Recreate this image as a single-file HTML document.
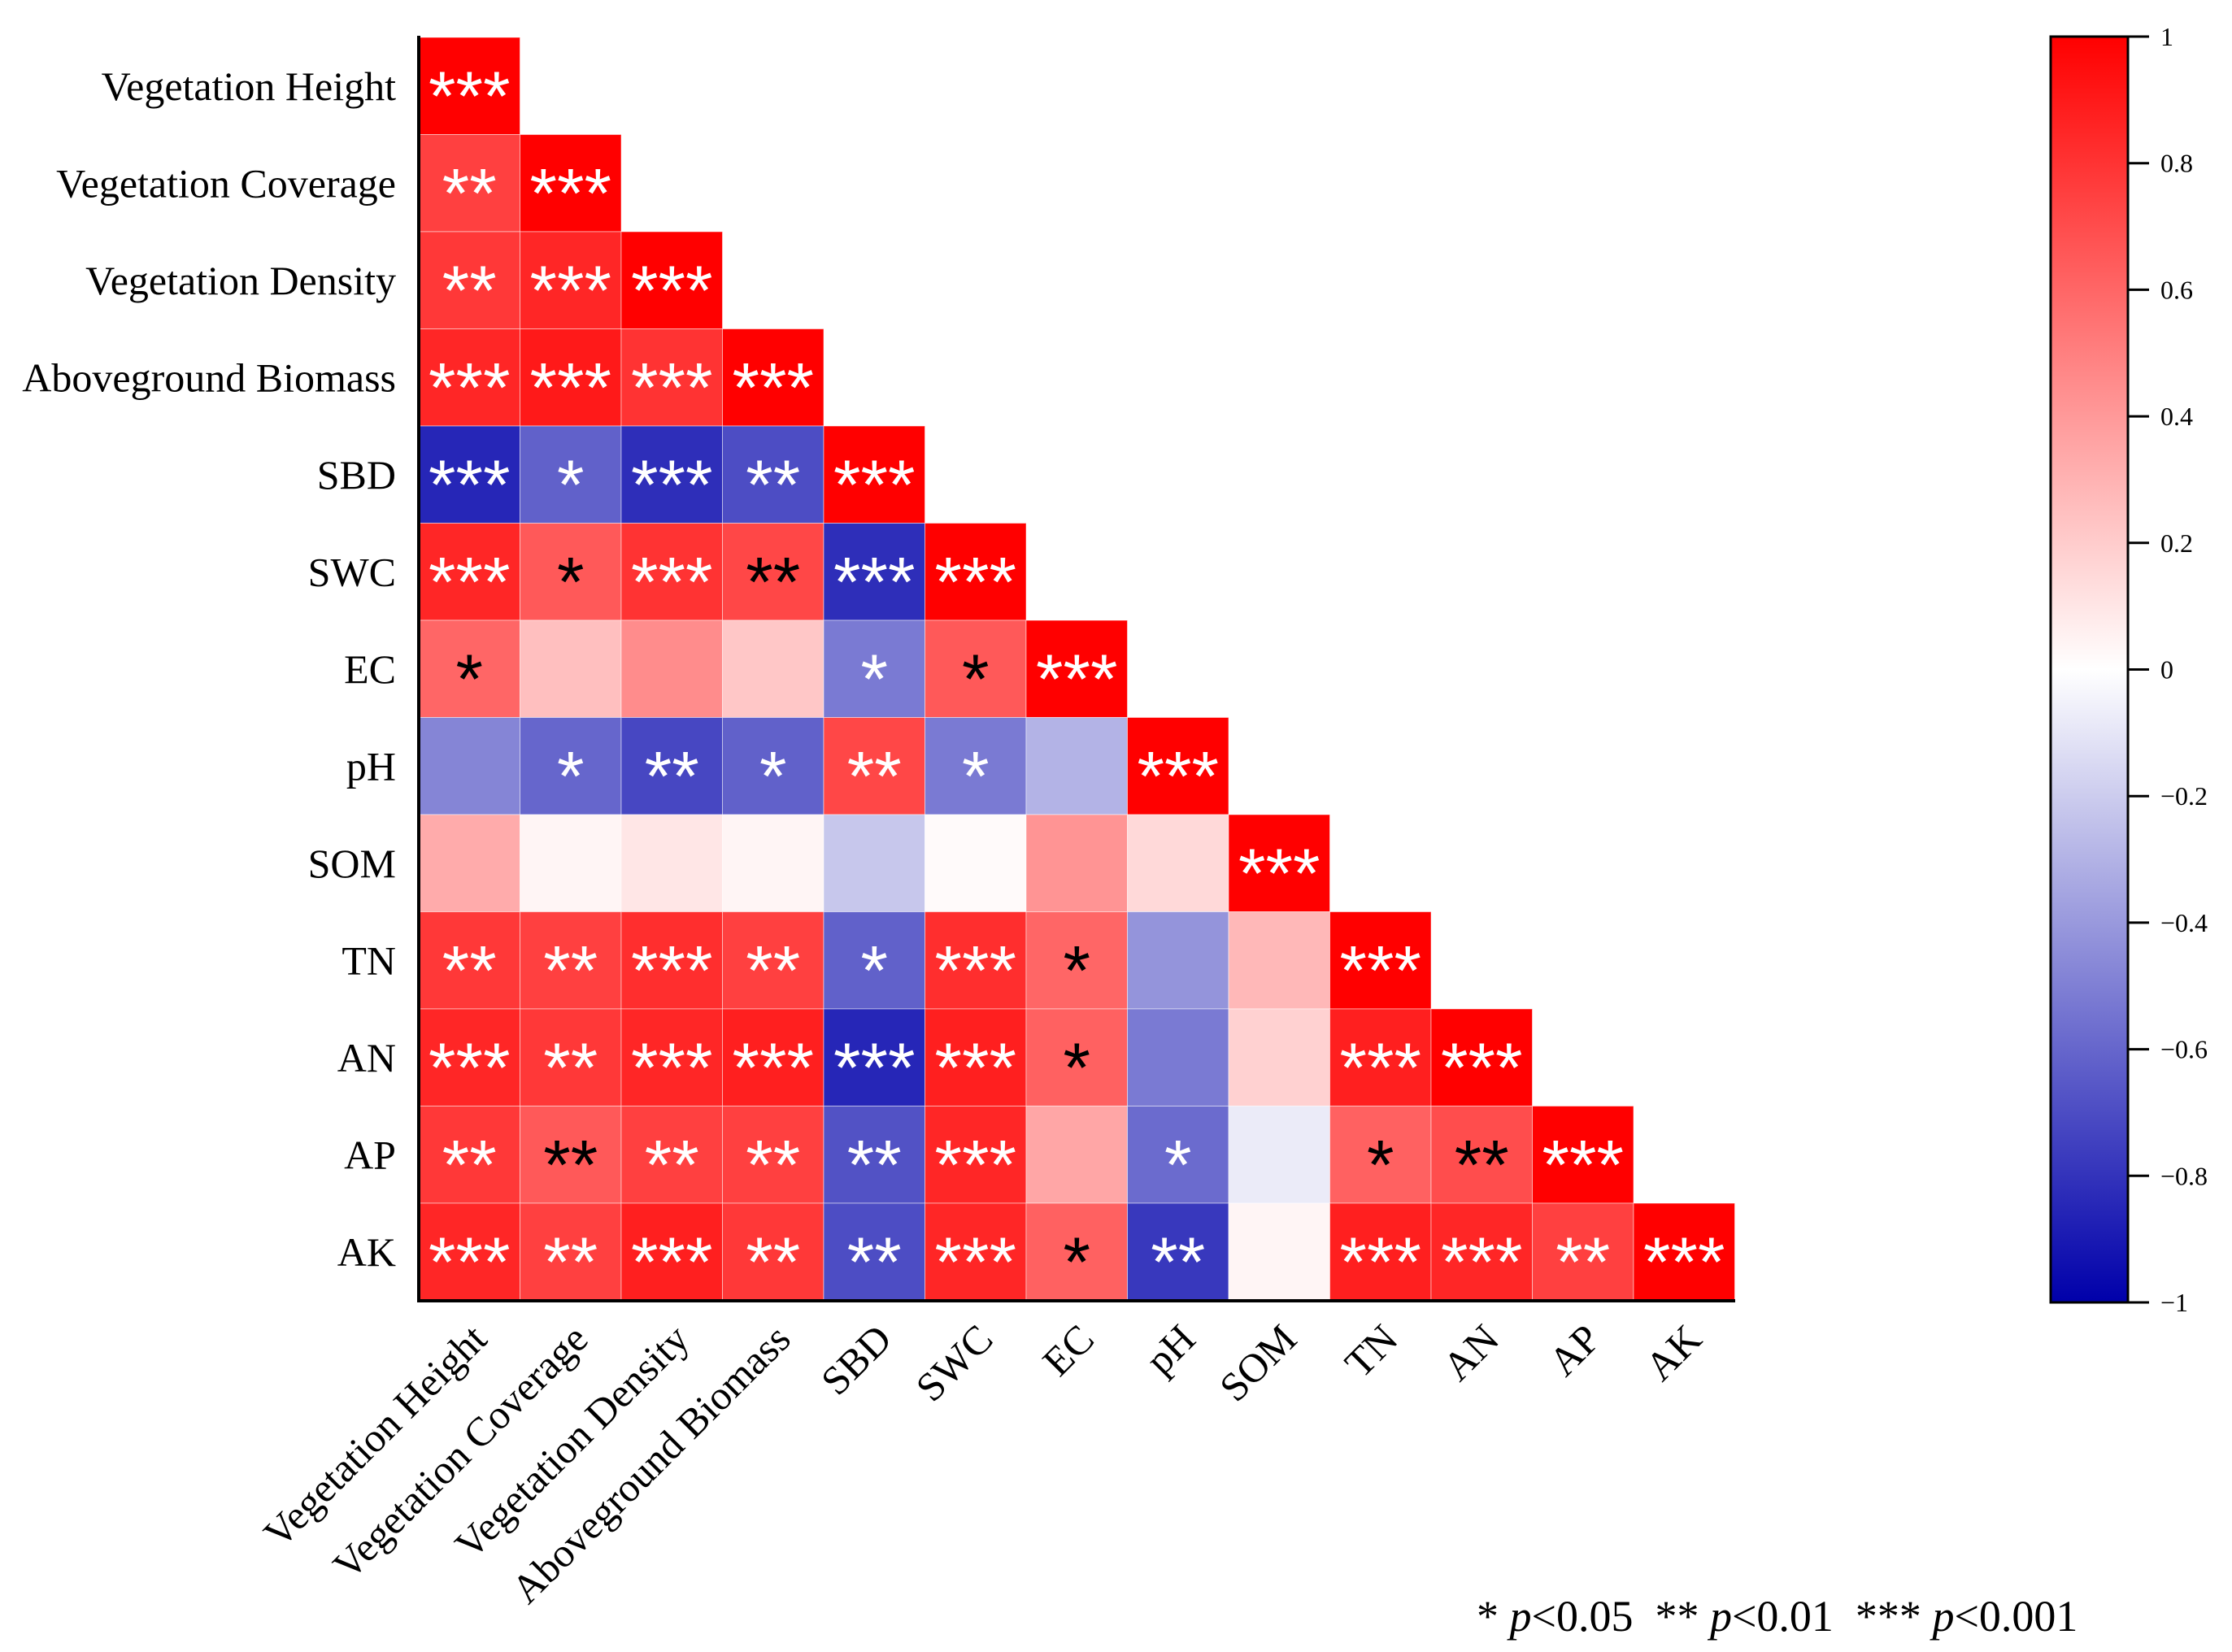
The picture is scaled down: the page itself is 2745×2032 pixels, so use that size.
<!DOCTYPE html>
<html><head><meta charset="utf-8"><style>
html,body{margin:0;padding:0;background:#fff;}
svg{display:block;font-family:"Liberation Serif",serif;}
</style></head><body>
<svg id="chart" width="2745" height="2032" viewBox="0 0 2745 2032" xmlns="http://www.w3.org/2000/svg">
<defs>
<linearGradient id="cbgrad" x1="0" y1="0" x2="0" y2="1">
<stop offset="0" stop-color="#ff0000"/><stop offset="0.5" stop-color="#ffffff"/><stop offset="1" stop-color="#0000aa"/>
</linearGradient>
</defs>
<g id="cells"></g>
<g id="rowlabels"></g>
<g id="collabels"></g>
<line x1="515" y1="44" x2="515" y2="1602" stroke="#000" stroke-width="4"/>
<line x1="513" y1="1600" x2="2134" y2="1600" stroke="#000" stroke-width="4"/>
<g>
<rect x="2522" y="45" width="95" height="1557" fill="url(#cbgrad)" stroke="#000" stroke-width="3"/>
<g id="cbticks"></g>
</g>
<text x="1816" y="2006" font-size="54" xml:space="preserve">* <tspan font-style="italic">p</tspan>&lt;0.05  ** <tspan font-style="italic">p</tspan>&lt;0.01  *** <tspan font-style="italic">p</tspan>&lt;0.001</text>
</svg>
<script>
const labels = ["Vegetation Height","Vegetation Coverage","Vegetation Density","Aboveground  Biomass","SBD","SWC","EC","pH","SOM","TN","AN","AP","AK"];
const values = [
[1],
[0.75,1],
[0.78,0.85,1],
[0.85,0.9,0.8,1],
[-0.85,-0.62,-0.82,-0.7,1],
[0.85,0.65,0.8,0.72,-0.82,1],
[0.6,0.25,0.45,0.22,-0.52,0.65,1],
[-0.48,-0.6,-0.72,-0.62,0.72,-0.52,-0.3,1],
[0.33,0.04,0.1,0.04,-0.22,0.02,0.42,0.15,1],
[0.78,0.75,0.82,0.75,-0.62,0.82,0.6,-0.42,0.28,1],
[0.85,0.78,0.85,0.88,-0.85,0.88,0.62,-0.52,0.18,0.88,1],
[0.78,0.65,0.75,0.75,-0.68,0.85,0.35,-0.58,-0.08,0.62,0.7,1],
[0.85,0.75,0.88,0.78,-0.7,0.85,0.62,-0.78,0.04,0.88,0.85,0.75,1]
];
const stars = [
["***"],
["**","***"],
["**","***","***"],
["***","***","***","***"],
["***","*","***","**","***"],
["***","*k","***","**k","***","***"],
["*k","","","","*","*k","***"],
["","*","**","*","**","*","","***"],
["","","","","","","","","***"],
["**","**","***","**","*","***","*k","","","***"],
["***","**","***","***","***","***","*k","","","***","***"],
["**","**k","**","**","**","***","","*","","*k","**k","***"],
["***","**","***","**","**","***","*k","**","","***","***","**","***"]
];
const cbTicks = [1,0.8,0.6,0.4,0.2,0,-0.2,-0.4,-0.6,-0.8,-1];

const NS="http://www.w3.org/2000/svg";
const X0=515, Y0=46, CW=124.5, CH=119.5;
const cbTop=45, cbBot=1602;
function xPos(j){return X0+j*CW;}
function yPos(i){return Y0+i*CH;}
function cbY(v){return cbTop+(1-v)/2*(cbBot-cbTop);}
function color(v){
  if(v>=0){const c=Math.round(255*(1-v));return `rgb(255,${c},${c})`;}
  const t=-v;return `rgb(${Math.round(255*(1-t))},${Math.round(255*(1-t))},${Math.round(255-85*t)})`;
}
function mk(tag,attrs,parent){const e=document.createElementNS(NS,tag);for(const k in attrs)e.setAttribute(k,attrs[k]);parent.appendChild(e);return e;}
const cells=document.getElementById('cells');
values.forEach((row,i)=>{
  row.forEach((v,j)=>{
    const r=mk('rect',{x:xPos(j),y:yPos(i),width:CW,height:CH,fill:color(v),stroke:'#fff','stroke-opacity':0.5,'stroke-width':1},cells);
    
    
    const s=stars[i][j];
    if(s){
      const black=s.endsWith('k');
      const t=mk('text',{x:xPos(j)+CW/2,y:yPos(i)+CH/2+42,'text-anchor':'middle','font-size':86,fill:black?'#000':'#fff','font-family':'"Liberation Sans",sans-serif'},cells);
      t.textContent=s.replace('k','');
      
      
    }
  });
});
const rl=document.getElementById('rowlabels');
labels.forEach((l,i)=>{
  const t=mk('text',{x:487,y:yPos(i)+CH/2+17,'text-anchor':'end','font-size':50},rl);
  t.textContent=l;
  
  
});
const cl=document.getElementById('collabels');
labels.forEach((l,j)=>{
  const x=xPos(j)+CW/2+24, y=1650;
  const t=mk('text',{x:x,y:y,'text-anchor':'end','font-size':50,transform:`rotate(-45 ${x} ${y})`},cl);
  t.textContent=l;
  
  
});
const cb=document.getElementById('cbticks');
cbTicks.forEach(v=>{
  const y=cbY(v);
  const ln=mk('line',{x1:2617,y1:y,x2:2643,y2:y,stroke:'#000','stroke-width':3},cb);
  
  
  const t=mk('text',{x:2657,y:y+11,'font-size':32},cb);
  t.textContent=v<0?'\u2212'+(-v):String(v);
  
  
});
</script>
</body></html>
